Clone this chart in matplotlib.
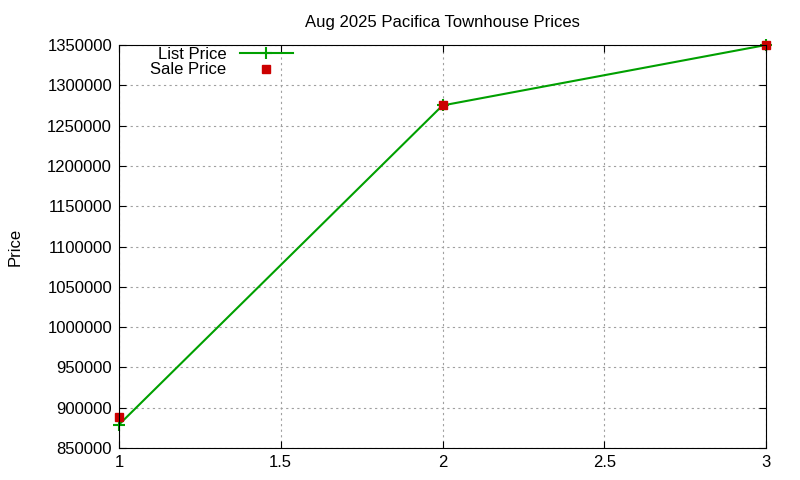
import matplotlib
matplotlib.use("Agg")
import matplotlib.pyplot as plt

x = [1, 2, 3]
list_price = [879000, 1275000, 1350000]
sale_price = [889000, 1275000, 1350000]
yticks = list(range(850000, 1350001, 50000))
xticks = [1, 1.5, 2, 2.5, 3]

plt.rcParams['font.family'] = ['Liberation Sans', 'DejaVu Sans']
fig = plt.figure(figsize=(8, 4.8), dpi=100)
ax = fig.add_axes([119/800, 1-448/480, (766-119)/800, (448-45)/480])
ax.plot(x, list_price, color='#00a000', lw=1.5, marker='+', ms=8, mew=1.5, label='List Price', clip_on=False)
ax.plot(x, sale_price, ls='none', marker='s', color='#cc0000', ms=6, label='Sale Price', clip_on=False)
ax.set_xlim(1, 3)
ax.set_ylim(850000, 1350000)
ax.set_xticks(xticks)
ax.set_xticklabels(['1', '1.5', '2', '2.5', '3'])
ax.set_yticks(yticks)
ax.set_yticklabels([str(v) for v in yticks])
ax.tick_params(direction='in', labelsize=12, top=True, right=True, length=5, pad=5)
ax.grid(True, color='#a0a0a0', ls=(0, (2, 3)), lw=0.8)
ax.set_title('Aug 2025 Pacifica Townhouse Prices', fontsize=12, pad=13)
ax.set_ylabel('Price', fontsize=12, labelpad=18)
leg = ax.legend(loc='upper left', frameon=False, fontsize=12, markerfirst=False,
                bbox_to_anchor=(0.03, 1.025), handlelength=3.2, borderaxespad=0.3, labelspacing=0.05)
fig.savefig('out.png', dpi=100)
